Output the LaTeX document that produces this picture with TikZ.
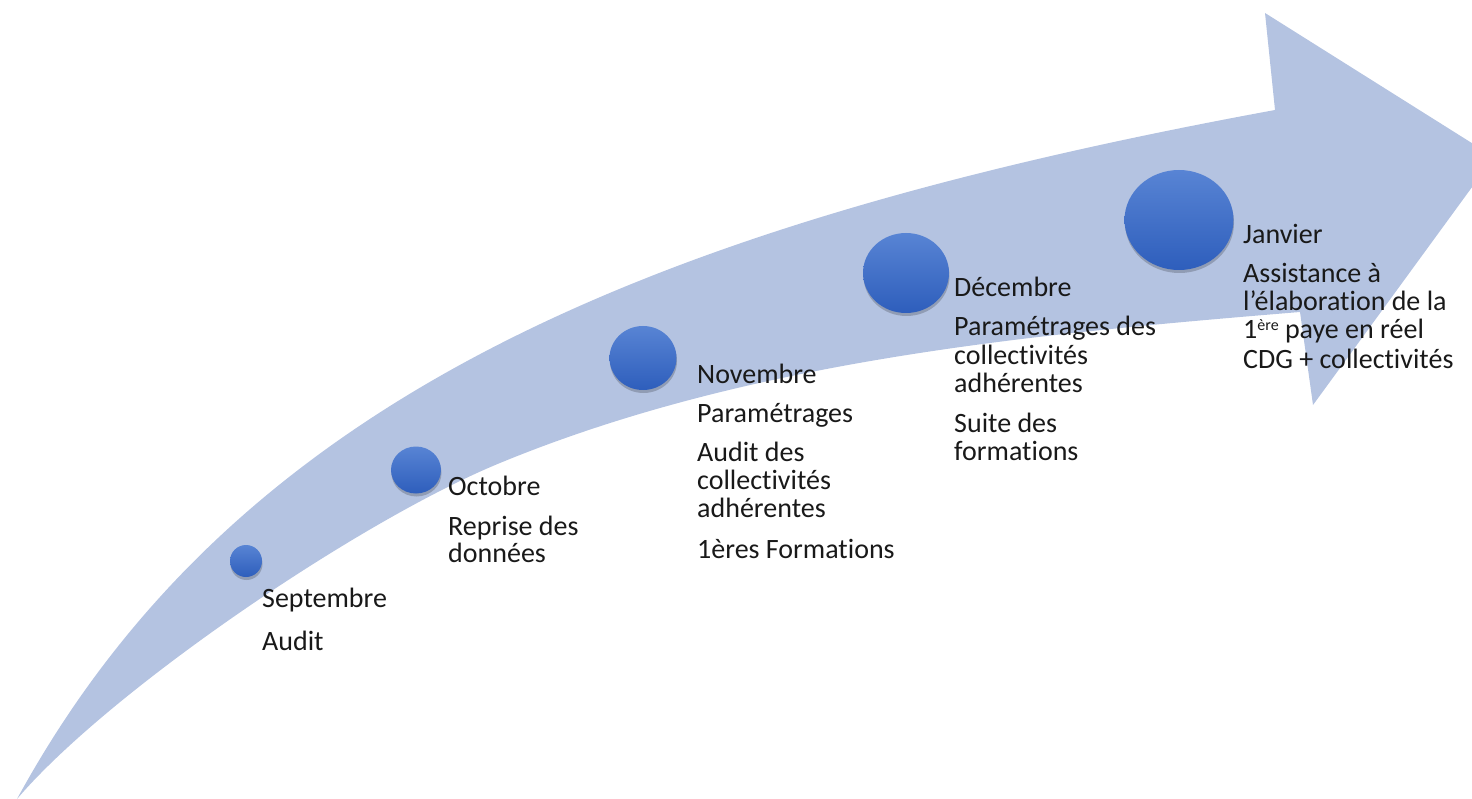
\documentclass[tikz,border=0pt]{standalone}
\usepackage{fontspec}
\setmainfont{Carlito}[Ligatures=NoCommon]
\usetikzlibrary{shapes.geometric,shadows}
\definecolor{bandcol}{RGB}{180,195,225}
\definecolor{dottop}{RGB}{88,132,212}
\definecolor{dotbot}{RGB}{46,94,188}
\definecolor{txtcol}{RGB}{25,25,25}
\newcommand{\supere}[1]{\raisebox{8pt}{\fontsize{16}{16}\selectfont #1}}
\tikzset{
  band/.style={fill=bandcol},
  dot/.style={ellipse, inner sep=0pt, draw=none, top color=dottop, bottom color=dotbot,
    drop shadow={shadow xshift=0.5pt, shadow yshift=-3pt, opacity=0.2, fill=black}},
  lbl/.style={anchor=base west, inner sep=0pt, text=txtcol,
    font=\fontsize{28}{28}\selectfont}
}
\begin{document}
\begin{tikzpicture}[x=1pt,y=-1pt]
\useasboundingbox (0,0) rectangle (1472,799);
\clip (0,0) rectangle (1472,799);
% curved arrow
\fill[band] (17,799) .. controls (233,403) and (638,227) .. (1275,110)
  -- (1265,13) -- (1494,157) -- (1313,405) -- (1300,312)
  .. controls (1033,334) and (750,360) .. (500,463)
  .. controls (361,520) and (110,690) .. (17,799) -- cycle;
% milestones
\node[dot, minimum width=32pt, minimum height=32pt] (sep) at (246,561) {};
\node[dot, minimum width=50pt, minimum height=47pt] (oct) at (416,470) {};
\node[dot, minimum width=67pt, minimum height=64pt] (nov) at (643,358) {};
\node[dot, minimum width=86pt, minimum height=80pt] (dec) at (906,273) {};
\node[dot, minimum width=109pt, minimum height=100pt] (jan) at (1179,220) {};
% texts
\node[lbl] (s1) at (262,607) {Septembre};
\node[lbl] (s2) at (262,650) {Audit};
\node[lbl] (o1) at (448,495) {Octobre};
\node[lbl] (o2) at (448,535) {Reprise des};
\node[lbl] (o3) at (448,562) {données};
\node[lbl] (n1) at (697,383) {Novembre};
\node[lbl] (n2) at (697,422) {Paramétrages};
\node[lbl] (n3) at (697,461) {Audit des};
\node[lbl] (n4) at (697,489) {collectivités};
\node[lbl] (n5) at (697,517) {adhérentes};
\node[lbl] (n6) at (697,558) {1ères Formations};
\node[lbl] (d1) at (954,297) {Décembre};
\node[lbl] (d2) at (954,336) {Paramétrages des};
\node[lbl] (d3) at (954,364) {collectivités};
\node[lbl] (d4) at (954,392) {adhérentes};
\node[lbl] (d5) at (954,432) {Suite des};
\node[lbl] (d6) at (954,460) {formations};
\node[lbl] (j1) at (1243,244) {Janvier};
\node[lbl] (j2) at (1243,283) {Assistance à};
\node[lbl] (j3) at (1243,311) {l’élaboration de la};
\node[lbl] (j4) at (1243,339) {1\supere{ère} paye en réel};
\node[lbl] (j5) at (1243,368) {CDG + collectivités};
\end{tikzpicture}
\end{document}
